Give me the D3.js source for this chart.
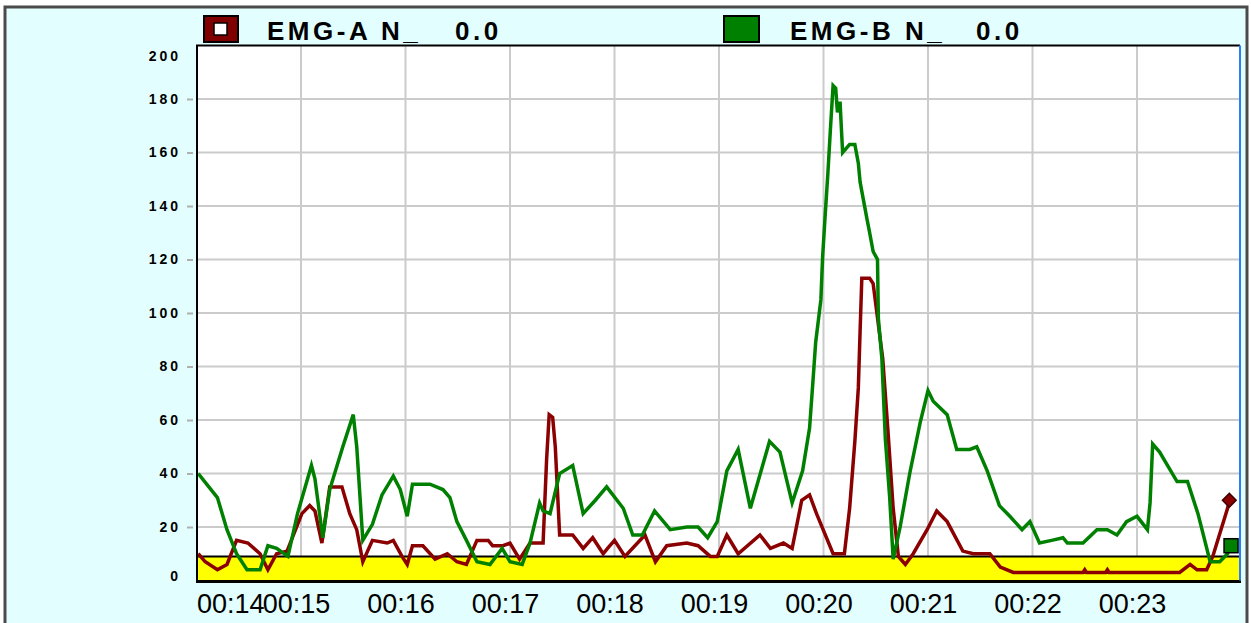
<!DOCTYPE html>
<html>
<head>
<meta charset="utf-8">
<script src="https://cdn.jsdelivr.net/npm/d3@7"></script>
<style>
body { margin: 0; background: #fff; }
svg text { font-family: "Liberation Sans", Arial, sans-serif; }
</style>
</head>
<body>
<div class="infographic"></div>
<script>
// tick labels
var minuteLabels = ["00:14","00:15","00:16","00:17","00:18","00:19","00:20","00:21","00:22","00:23"];
var yTicks = [0,20,40,60,80,100,120,140,160,180,200];
var threshold = 9;

// [seconds after 00:14, value]
var emgA = [[1,10],[5,7],[12,4],[17.5,6],[23,15],[29.5,14],[36.5,10],[41,4],[46,10],[52,11],
  [60.5,25],[65,28],[68,26],[72,14],[76.5,35],[83.5,35],[88,25],[92,19],[95.5,7],[101,15],
  [109.5,14],[113,15],[118,9],[121,6],[124,13],[130,13],[137,8],[144,10],[149.5,7],[155,6],
  [161,15],[167.5,15],[170,13],[176,13],[180,14],[185.5,8],[191.5,14],[199,14],[201,45],[202.5,62],
  [204.5,61],[206,50],[208.5,17],[216,17],[222,12],[227.5,16],[233.5,10],[236,12],[240,15],[246,9],
  [257.5,17],[263.5,7],[270,13],[281.5,14],[288,13],[295,9],[299,9],[304.5,17],[311,10],[323.5,17],
  [329.5,12],[337,14],[342,12],[347.5,30],[352,32],[356,25],[365.5,10],[372,10],[375,27],[378,52],
  [380,72],[381,93],[382,113],[386.5,113],[388.5,111],[394,83],[397,56],[400,27],[403,9],[407,6],
  [411.5,10],[419.5,19],[425,26],[431,22],[440,11],[446,10],[455.5,10],[461.5,5],[469,3],[509,3],
  [510,4],[511,3],[522,3],[523,4],[524,3],[564.5,3],[570.5,6],[574.5,4],[580,4],[583.5,9],[592,27],[593,30]];

var emgB = [[1,40],[12,31],[17.5,19],[23,10],[29,4],[36.5,4],[41,13],[46,12],[52.5,9],[58,25],
  [62,34],[66,43],[68,38],[72.5,16],[76.5,34],[84,50],[90,62],[92,50],[95.5,15],[101,21],
  [106.5,32],[113,39],[117,34],[121,24],[124,36],[134,36],[141.5,34],[145.5,31],[149.5,22],[155,15],
  [161,7],[168.5,6],[175.5,12],[180,7],[187,6],[191.5,14],[197,29],[199,26],[203,25],[208.5,40],
  [216,43],[222,25],[229,30],[235.5,35],[245,27],[250.5,17],[256,17],[263,26],[272,19],[281.5,20],
  [288,20],[293.5,16],[299,22],[304.5,41],[311,49],[318,27],[329,52],[335,48],[342,29],[348,41],
  [352,57],[354,75],[355.5,89],[358.5,105],[359.5,121],[361,137],[362.5,152],[364,169],[365.5,185],[367,184],
  [368,175],[369.5,179],[370.5,166],[371,160],[375,163],[378,163],[380,156],[381,149],[383,142],[385,135],
  [386.5,130],[388.5,123],[391,120],[391.5,98],[393.5,83],[395.5,53],[398,31],[400,8],[404,20],[409.5,40],
  [415.5,59],[420,71],[423,67],[431,62],[436.5,49],[444,49],[448,50],[454,41],[461,28],[467,24],
  [474,19],[478.5,22],[484,14],[491,15],[497.5,16],[500,14],[509,14],[517,19],[523,19],[528.5,17],
  [534,22],[540,24],[546,19],[547.5,29],[549,51],[553,48],[563,37],[569,37],[575,25],[582,7],
  [587.5,7],[592,10],[594,13]];

var width = 1251, height = 623;
var plot = {left: 197, right: 1240, top: 45.5, bottom: 580.5};

var x = d3.scaleLinear().domain([0, 600]).range([196.5, 1241.5]);
var y = d3.scaleLinear().domain([0, 200]).range([plot.bottom, plot.top]);

var svg = d3.select(".infographic")
            .append("svg")
            .attr("width", width)
            .attr("height", height);

// frame
svg.append("rect")
   .attr("x", 5).attr("y", 7)
   .attr("width", 1242).attr("height", 640)
   .style("fill", "#e2fefe")
   .style("stroke", "#4a4a4a")
   .style("stroke-width", 3);

svg.append("rect")
   .attr("x", plot.left).attr("y", plot.top)
   .attr("width", plot.right - plot.left).attr("height", plot.bottom - plot.top)
   .style("fill", "#fff");

// grid
var grid = svg.append("g").attr("class", "grid")
   .style("stroke", "#cbcbcb").style("stroke-width", 2);

grid.selectAll(".vline")
    .data(d3.range(60, 600, 60))
  .enter().append("line")
    .attr("x1", d => x(d)).attr("x2", d => x(d))
    .attr("y1", plot.top).attr("y2", plot.bottom);

grid.selectAll(".hline")
    .data(yTicks.filter(d => d > 0 && d < 200))
  .enter().append("line")
    .attr("x1", plot.left).attr("x2", plot.right)
    .attr("y1", d => y(d)).attr("y2", d => y(d));

// threshold band
svg.append("rect")
   .attr("x", plot.left).attr("y", y(threshold))
   .attr("width", plot.right - plot.left).attr("height", y(0) - y(threshold))
   .style("fill", "#ffff00");
svg.append("line")
   .attr("x1", plot.left).attr("x2", plot.right)
   .attr("y1", y(threshold)).attr("y2", y(threshold))
   .style("stroke", "#000").style("stroke-width", 2);

// lines
svg.append("clipPath").attr("id", "clip")
   .append("rect")
   .attr("x", plot.left).attr("y", plot.top)
   .attr("width", plot.right - plot.left).attr("height", plot.bottom - plot.top);

var line = d3.line()
    .x(d => x(d[0]))
    .y(d => y(d[1]));

var lines = svg.append("g").attr("clip-path", "url(#clip)");

lines.append("path")
     .datum(emgA)
     .attr("d", line)
     .style("fill", "none")
     .style("stroke", "#8b0000")
     .style("stroke-width", 3.5);

lines.append("path")
     .datum(emgB)
     .attr("d", line)
     .style("fill", "none")
     .style("stroke", "#008000")
     .style("stroke-width", 3.5);

// end markers
var lastA = emgA[emgA.length - 1], lastB = emgB[emgB.length - 1];
svg.append("path")
   .attr("d", d3.symbol().type(d3.symbolDiamond2).size(120)())
   .attr("transform", "translate(" + x(lastA[0]) + "," + y(lastA[1]) + ")")
   .style("fill", "#8b0000")
   .style("stroke", "#400000")
   .style("stroke-width", 1.5);

svg.append("rect")
   .attr("x", x(lastB[0]) - 7).attr("y", y(lastB[1]) - 7)
   .attr("width", 14).attr("height", 14)
   .style("fill", "#008000")
   .style("stroke", "#000")
   .style("stroke-width", 1.5);

// plot border
svg.append("path")
   .attr("d", "M" + plot.right + "," + plot.top + "H" + plot.left + "V" + plot.bottom)
   .style("fill", "none").style("stroke", "#000").style("stroke-width", 2);
svg.append("line")
   .attr("x1", plot.left - 1).attr("x2", plot.right + 1)
   .attr("y1", plot.bottom + 1).attr("y2", plot.bottom + 1)
   .style("stroke", "#000").style("stroke-width", 3);
svg.append("line")
   .attr("x1", plot.right).attr("x2", plot.right)
   .attr("y1", plot.top).attr("y2", plot.bottom)
   .style("stroke", "#2a7cff").style("stroke-width", 2);

// y axis
var yAxis = svg.append("g")
   .attr("transform", "translate(193,0)")
   .call(d3.axisLeft(y).tickValues(yTicks).tickSize(6).tickPadding(6));
yAxis.select(".domain").remove();
yAxis.selectAll(".tick line").style("stroke", "#b0b0b0").style("stroke-width", 2);
yAxis.selectAll(".tick text")
   .style("font-size", "14px")
   .style("font-weight", "bold")
   .style("letter-spacing", "3px")
   .style("fill", "#000")
   .attr("dy", function(d) {
     if (d === 200) return "1.05em";
     if (d === 0) return "0";
     return "0.32em";
   });
yAxis.selectAll(".tick").filter(d => d === 200 || d === 0).select("line").remove();

// x axis
var xAxis = svg.append("g")
   .attr("transform", "translate(0," + plot.bottom + ")")
   .call(d3.axisBottom(x).tickValues(d3.range(0, 600, 60))
     .tickFormat((d, i) => minuteLabels[i]).tickSize(0).tickPadding(13));
xAxis.select(".domain").remove();
xAxis.selectAll(".tick text")
   .style("font-size", "27px")
   .style("fill", "#000")
   .attr("x", d => d === 0 ? 0 : -5)
   .attr("text-anchor", d => d === 0 ? "start" : "middle");

// legend
var legend = svg.append("g").attr("class", "legend");

legend.append("rect")
   .attr("x", 204).attr("y", 16).attr("width", 34).attr("height", 26)
   .style("fill", "#800000").style("stroke", "#000").style("stroke-width", 2);
legend.append("rect")
   .attr("x", 214).attr("y", 23).attr("width", 13).attr("height", 12)
   .style("fill", "#fff").style("stroke", "#000").style("stroke-width", 1.5);
legend.append("rect")
   .attr("x", 724).attr("y", 16).attr("width", 35).attr("height", 26)
   .style("fill", "#008000").style("stroke", "#000").style("stroke-width", 2);

var legendText = [
  {x: 267, t: "EMG-A N_"}, {x: 455, t: "0.0"},
  {x: 790, t: "EMG-B N_"}, {x: 976, t: "0.0"}
];
legend.selectAll(".ltext")
   .data(legendText)
  .enter().append("text")
   .attr("x", d => d.x).attr("y", 40)
   .style("font-size", "26px")
   .style("font-weight", "bold")
   .style("letter-spacing", "3.5px")
   .text(d => d.t);
</script>
</body>
</html>
